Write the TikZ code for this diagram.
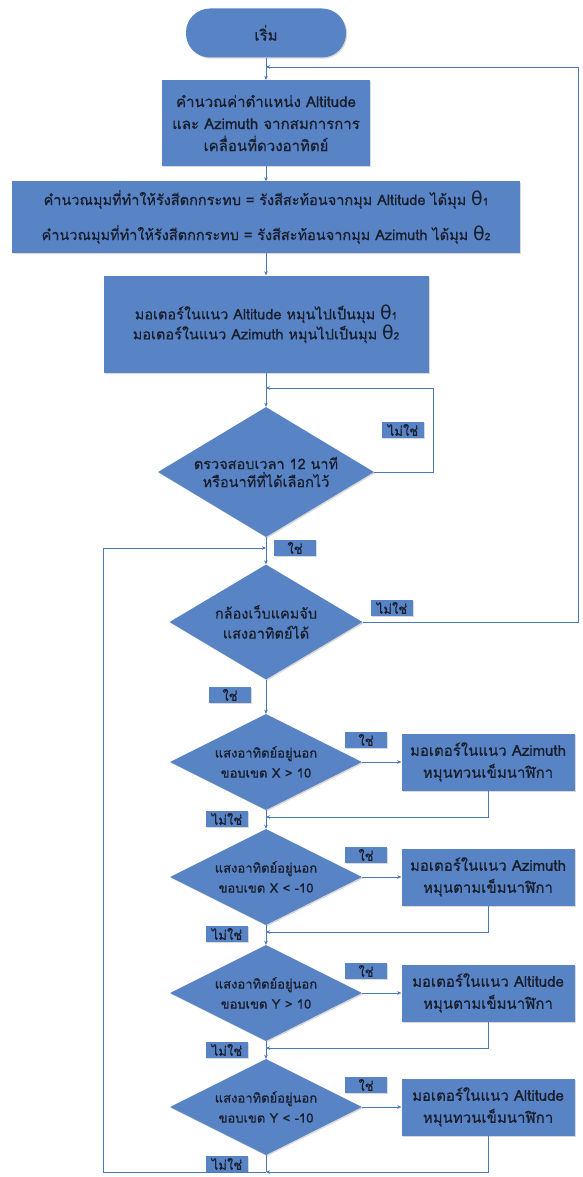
\documentclass[tikz,border=0pt]{standalone}
\usepackage{fontspec}
\setmainfont[Script=Thai,FakeBold=0.6]{Loma}
\newfontfamily\thetafont{DejaVu Sans}
\usetikzlibrary{shapes.geometric,arrows.meta,shadows}
\definecolor{boxblue}{RGB}{88,131,196}
\definecolor{lineblue}{RGB}{74,120,186}
\definecolor{inkdark}{RGB}{25,30,45}
% angle symbol with its index
\newcommand{\ang}[1]{{\thetafont\fontsize{19}{19}\selectfont θ}{\fontsize{10}{10}\selectfont #1}}

\begin{document}
\begin{tikzpicture}[x=1pt,y=-1pt,
    font=\fontsize{15}{22}\selectfont, text=inkdark,
    softshadow/.style={drop shadow={shadow xshift=1.2pt,shadow yshift=-1.2pt,opacity=0.3}},
    term/.style={fill=boxblue,rounded corners=24pt,minimum width=160pt,minimum height=49pt,softshadow},
    proc/.style={fill=boxblue,align=center,inner sep=0pt,softshadow},
    decide/.style={diamond,fill=boxblue,align=center,inner sep=0pt,aspect=2,softshadow},
    tag/.style={fill=boxblue,inner sep=1pt,minimum width=42pt,minimum height=16pt,
        font=\fontsize{13}{14}\selectfont,softshadow},
    flow/.style={draw=lineblue,thin,-{Stealth[length=4pt,width=3.5pt]}},
    wire/.style={draw=lineblue,thin}]
    \useasboundingbox (0,0) rectangle (582,1177);

    %% top part of the chart
    \node[term] (start) at (266,33) {เริ่ม};
    \node[proc,minimum width=208pt,minimum height=86pt]
        (pos) at (266,123) {คำนวณค่าตำแหน่ง Altitude\\และ Azimuth จากสมการการ\\เคลื่อนที่ดวงอาทิตย์};
    \node[proc,minimum width=508pt,minimum height=71pt,font=\fontsize{14.5}{35}\selectfont]
        (calc) at (266,217) {คำนวณมุมที่ทำให้รังสีตกกระทบ = รังสีสะท้อนจากมุม Altitude ได้มุม \ang1\\
        คำนวณมุมที่ทำให้รังสีตกกระทบ = รังสีสะท้อนจากมุม Azimuth ได้มุม \ang2};
    \node[proc,minimum width=325pt,minimum height=97pt,font=\fontsize{14.5}{20}\selectfont]
        (turn) at (266,324) {มอเตอร์ในแนว Altitude หมุนไปเป็นมุม \ang1\\มอเตอร์ในแนว Azimuth หมุนไปเป็นมุม \ang2};
    \node[decide,minimum width=216pt,minimum height=130pt,font=\fontsize{14.5}{18}\selectfont]
        (wait) at (266,472) {ตรวจสอบเวลา 12 นาที\\หรือนาทีที่ได้เลือกไว้};
    \node[decide,minimum width=193pt,minimum height=115pt,font=\fontsize{14.5}{20}\selectfont]
        (cam) at (266,622) {กล้องเว็บแคมจับ\\แสงอาทิตย์ได้};

    \coordinate (top) at (266,67);
    \coordinate (again) at (266,388);
    \coordinate (back) at (266,548);

    \draw[flow] (start) -- (pos);
    \draw[flow] (pos) -- (calc);
    \draw[flow] (calc) -- (turn);
    \draw[flow] (turn) -- (wait);
    \draw[flow] (wait) -- (cam);
    \draw[flow] (wait.east) -- ++(59,0) |- (again);
    \draw[flow] (cam.east) -- ++(215,0) |- (top);

    \node[tag] (no0) at (403,430) {ไม่ใช่};
    \node[tag] (yes0) at (295,548) {ใช่};
    \node[tag] (no00) at (392,608) {ไม่ใช่};
    \node[tag] (yes00) at (230,695) {ใช่};

    %% the four limit checks
    \foreach \i/\yy/\ry/\ax/\cmp/\axis/\way in {
        1/762/817/X/{> 10}/Azimuth/ทวน,
        2/877/932/X/{< -10}/Azimuth/ตาม,
        3/993/1048/Y/{> 10}/Altitude/ตาม,
        4/1107/1172/Y/{< -10}/Altitude/ทวน} {
        \node[decide,minimum width=192pt,minimum height=96pt,font=\fontsize{13}{20}\selectfont]
            (cond\i) at (266,\yy) {แสงอาทิตย์อยู่นอก\\ขอบเขต \ax{} \cmp};
        \node[proc,minimum width=173pt,minimum height=57pt]
            (act\i) at (488,\yy) {มอเตอร์ในแนว \axis\\หมุน\way เข็มนาฬิกา};
        \coordinate (ret\i) at (266,\ry);
        \draw[flow] (cond\i) -- (act\i);
        \draw[flow] (act\i.south) |- (ret\i);
        \node[tag] (yes\i) at (366,\yy-22) {ใช่};
        \node[tag] (no\i) at (227,\yy+57) {ไม่ใช่};
    }
    \draw[flow] (cam) -- (cond1);
    \foreach \i/\j in {1/2,2/3,3/4}
        \draw[flow] (cond\i) -- (cond\j);

    %% back to the camera check
    \draw[wire] (cond4) -- (ret4);
    \draw[flow] (ret4) -- ++(-163,0) |- (back);
\end{tikzpicture}
\end{document}
